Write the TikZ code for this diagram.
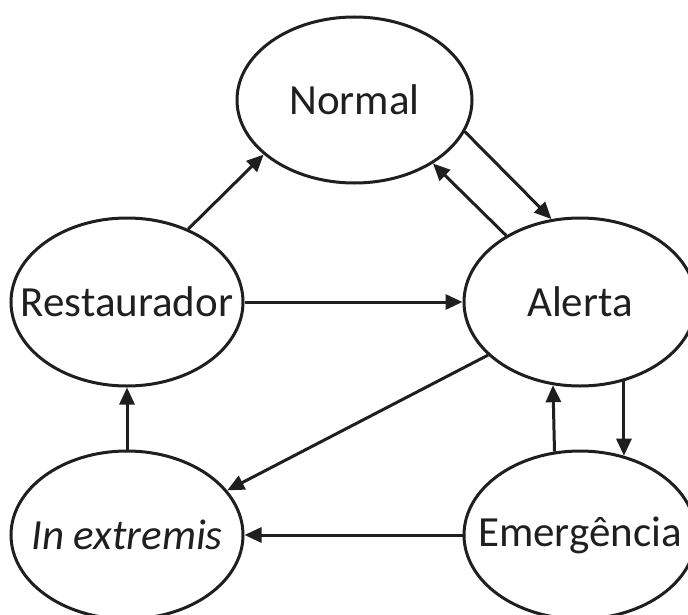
\documentclass[tikz,border=0pt]{standalone}
\usepackage{fontspec}
\setmainfont{Carlito}
\usetikzlibrary{shapes.geometric,arrows.meta}
\tikzset{
  state/.style={draw=black!88, line width=3pt, ellipse, inner sep=0pt,
    minimum width=232pt, minimum height=168pt, font=\fontsize{43}{45}\selectfont, text=black!88},
  conn/.style={draw=black!88, line width=3pt, -{Triangle[length=17pt,width=15pt]}}
}
\begin{document}
\begin{tikzpicture}[x=1pt,y=-1pt]
\useasboundingbox (0,0) rectangle (688,615);
\node[state, minimum width=235pt, minimum height=166pt] (normal) at (354.5,100) {\makebox[0pt]{Normal}};
\node[state] (rest) at (127,302) {\makebox[0pt]{Restaurador}};
\node[state] (alerta) at (580,302) {\makebox[0pt]{Alerta}};
\node[state] (extr) at (127,535) {\makebox[0pt]{\itshape In extremis}};
\node[state] (emerg) at (580,535) {\makebox[0pt]{Emergência}};
\draw[conn] (normal.-16) -- (alerta.109);
\draw[conn] (alerta.138) -- (normal.-39);
\draw[conn] (rest.50) -- (normal.211);
\draw[conn] (rest.east) -- (alerta.west);
\draw[conn] (alerta.210) -- (extr.24.5);
\draw[conn] (extr.north) -- (rest.south);
\draw[conn] (emerg.107.6) -- (alerta.252.4);
\draw[conn] (alerta.-61.1) -- (emerg.61.1);
\draw[conn] (emerg.west) -- (extr.east);
\end{tikzpicture}
\end{document}
